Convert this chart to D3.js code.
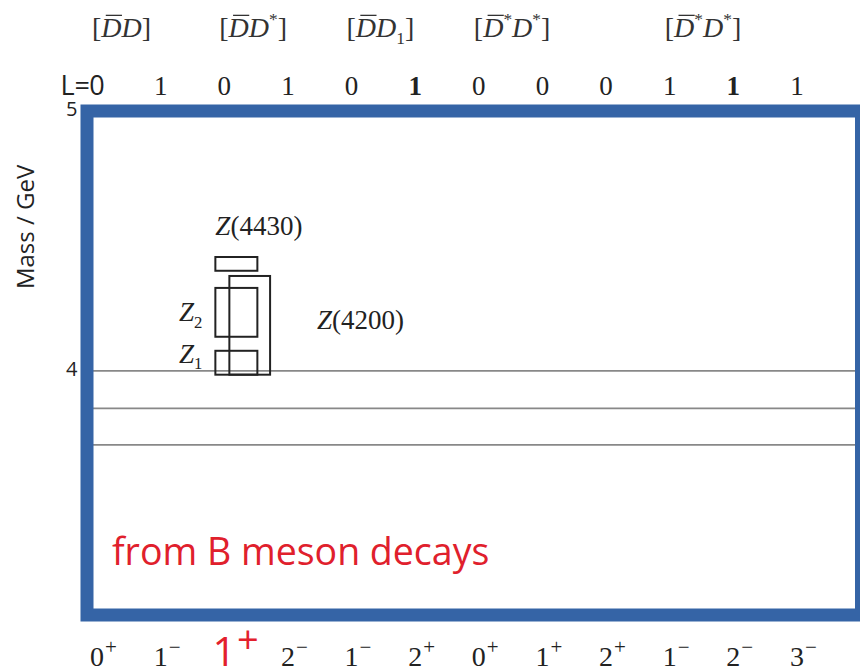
<!DOCTYPE html>
<html>
<head>
<meta charset="utf-8">
<script src="https://cdn.jsdelivr.net/npm/d3@7/dist/d3.min.js"></script>
<style>
  body { margin: 0; background: #fff; }
</style>
</head>
<body>
<svg id="chart" width="860" height="672"></svg>
<script>
// ---- data ----
// orbital angular momentum per column
const lValues = ['0', '1', '0', '1', '0', '1', '0', '0', '0', '1', '1', '1'];
// J^P per column
const jValues = ['0', '1', '1', '2', '1', '2', '0', '1', '2', '1', '2', '3'];
const pValues = ['+', '\u2212', '+', '\u2212', '\u2212', '+', '+', '+', '+', '\u2212', '\u2212', '\u2212'];
const highlightCol = 2;

// meson pair channels (first column of each group)
const channelStart = [0, 2, 4, 6, 9];
const channelParts = [
  [{t: '['}, {t: 'D', i: 1, bar: 1}, {t: 'D', i: 1}, {t: ']'}],
  [{t: '['}, {t: 'D', i: 1, bar: 1}, {t: 'D', i: 1}, {t: '*', sup: 1}, {t: ']'}],
  [{t: '['}, {t: 'D', i: 1, bar: 1}, {t: 'D', i: 1}, {t: '1', sub: 1}, {t: ']'}],
  [{t: '['}, {t: 'D', i: 1, bar: 1}, {t: '*', sup: 1}, {t: 'D', i: 1}, {t: '*', sup: 1}, {t: ']'}],
  [{t: '['}, {t: 'D', i: 1, bar: 1}, {t: '*', sup: 1}, {t: 'D', i: 1}, {t: '*', sup: 1}, {t: ']'}]
];

// thresholds (GeV)
const thresholds = [4.0, 3.855, 3.715];

// observed states: column, mass range (GeV)
const stateNames = ['Z(4430)', 'Z2', 'Z1', 'Z(4200)'];
const stateCol = [2, 2, 2, 2];
const stateLow = [4.385, 4.131, 3.985, 3.985];
const stateHigh = [4.438, 4.319, 4.077, 4.365];

const massMin = 3.06, massMax = 5;
const massTicks = [4, 5];

// ---- layout ----
const svg = d3.select('#chart');
const frameColor = '#3564a6';
const frameW = 13;
const left = 87, right = 861.5;

const x = d3.scaleLinear().domain([0, 11]).range([97, 797]);
const y = d3.scaleLinear().domain([massMin, massMax]).range([615, 111]);

const serif = "'Liberation Serif', 'DejaVu Serif', serif";
const sans = "'Open Sans', 'DejaVu Sans', sans-serif";

// text made of pieces: italic, sub/superscript, overline
function richText(g, parts, px, py, size, anchor, fill) {
  const text = g.append('text')
      .attr('x', px)
      .attr('y', py)
      .attr('font-family', serif)
      .attr('font-size', size)
      .attr('fill', fill || '#222')
      .attr('text-anchor', anchor || 'start');
  let shift = 0, idx = 0;
  const bars = [];
  parts.forEach(p => {
    const target = p.sup ? -0.42 * size : p.sub ? 0.25 * size : 0;
    const ts = text.append('tspan').text(p.t).attr('dy', target - shift);
    shift = target;
    if (p.sup || p.sub) ts.attr('font-size', size * 0.62);
    if (p.i) ts.attr('font-style', 'italic');
    if (p.bar) bars.push(idx);
    idx += p.t.length;
  });
  bars.forEach(ci => {
    const r = text.node().getExtentOfChar(ci);
    g.append('line')
        .attr('x1', r.x + r.width * 0.22)
        .attr('x2', r.x + r.width * 1.02)
        .attr('y1', r.y + size * 0.12)
        .attr('y2', r.y + size * 0.12)
        .attr('stroke', fill || '#222')
        .attr('stroke-width', 1.3);
  });
  return text;
}

// threshold lines
svg.append('g')
  .selectAll('line')
  .data(thresholds)
  .join('line')
    .attr('x1', left)
    .attr('x2', right)
    .attr('y1', d => y(d))
    .attr('y2', d => y(d))
    .attr('stroke', '#888')
    .attr('stroke-width', 1.8);

// state boxes
const states = stateNames.map((n, i) => ({name: n, col: stateCol[i], lo: stateLow[i], hi: stateHigh[i]}));
const boxX = {'Z(4430)': [-0.14, 0.52], 'Z2': [-0.14, 0.52], 'Z1': [-0.14, 0.52], 'Z(4200)': [0.08, 0.72]};
svg.append('g')
  .selectAll('rect')
  .data(states)
  .join('rect')
    .attr('x', d => x(d.col + boxX[d.name][0]))
    .attr('width', d => x(d.col + boxX[d.name][1]) - x(d.col + boxX[d.name][0]))
    .attr('y', d => y(d.hi))
    .attr('height', d => y(d.lo) - y(d.hi))
    .attr('fill', 'none')
    .attr('stroke', '#222')
    .attr('stroke-width', 2);

// state labels
const lab = svg.append('g');
const s0 = states[0], s1 = states[1], s2 = states[2], s3 = states[3];
const zSize = 27;
richText(lab, [{t: 'Z', i: 1}, {t: '(4430)'}], x(s0.col + boxX['Z(4430)'][0]), y(s0.hi) - 22, zSize);
richText(lab, [{t: 'Z', i: 1}, {t: '2', sub: 1}], x(s1.col + boxX['Z2'][0]) - 13, (y(s1.hi) + y(s1.lo)) / 2 + 9, zSize, 'end');
richText(lab, [{t: 'Z', i: 1}, {t: '1', sub: 1}], x(s2.col + boxX['Z1'][0]) - 13, (y(s2.hi) + y(s2.lo)) / 2, zSize, 'end');
richText(lab, [{t: 'Z', i: 1}, {t: '(4200)'}], x(s3.col + boxX['Z(4200)'][1]) + 47, (y(s3.hi) + y(s3.lo)) / 2 + 4, zSize);

// frame
svg.append('rect')
    .attr('x', left)
    .attr('y', y(massMax))
    .attr('width', right - left)
    .attr('height', y(massMin) - y(massMax))
    .attr('fill', 'none')
    .attr('stroke', frameColor)
    .attr('stroke-width', frameW);

// mass axis
const yAxis = svg.append('g')
    .attr('transform', `translate(${left - frameW / 2},0)`)
    .call(d3.axisLeft(y).tickValues(massTicks).tickSize(0).tickPadding(3).tickFormat(d3.format('d')));
yAxis.select('.domain').remove();
yAxis.selectAll('text')
    .attr('font-family', sans)
    .attr('font-size', 20)
    .attr('fill', '#222')
    .attr('dy', '0.22em');

svg.append('text')
    .attr('transform', `translate(26,${(y(massMax) + y(4)) / 2 - 14}) rotate(-90)`)
    .attr('text-anchor', 'middle')
    .attr('dy', '0.35em')
    .attr('font-family', sans)
    .attr('font-size', 24)
    .attr('fill', '#222')
    .text('Mass / GeV');

// channel labels on top
const channelG = svg.append('g');
channelParts.forEach((parts, i) => {
  richText(channelG, parts, x(channelStart[i]) - 5, 37, 28, 'start', '#333');
});

// L row
svg.append('text')
    .attr('x', x(0) - 7)
    .attr('y', 95)
    .attr('text-anchor', 'end')
    .attr('font-family', sans)
    .attr('font-size', 27)
    .attr('fill', '#222')
    .text('L=');
svg.append('g')
  .selectAll('text')
  .data(lValues)
  .join('text')
    .attr('x', (d, i) => x(i))
    .attr('y', 95)
    .attr('text-anchor', 'middle')
    .attr('font-family', (d, i) => i === 0 ? sans : serif)
    .attr('font-size', (d, i) => i === 0 ? 27 : 27)
    .attr('font-weight', (d, i) => i === 5 || i === 10 ? 'bold' : 'normal')
    .attr('fill', '#222')
    .text(d => d);

// J^P row
const jp = svg.append('g');
jValues.forEach((j, i) => {
  const hi = i === highlightCol;
  const size = hi ? 41 : 28;
  const t = jp.append('text')
      .attr('x', x(i))
      .attr('y', 666)
      .attr('text-anchor', 'middle')
      .attr('font-family', hi ? sans : serif)
      .attr('font-size', size)
      .attr('fill', hi ? '#e3202c' : '#222')
      .text(j);
  const w = t.node().getComputedTextLength();
  jp.append('text')
      .attr('x', x(i) + w / 2 + (hi ? 1 : 1))
      .attr('y', hi ? 653 : 654)
      .attr('font-family', hi ? sans : serif)
      .attr('font-size', hi ? 38 : 21)
      .attr('fill', hi ? '#e3202c' : '#222')
      .text(pValues[i]);
});

// note
svg.append('text')
    .attr('x', left + 25)
    .attr('y', 565)
    .attr('font-family', sans)
    .attr('font-size', 37.5)
    .attr('fill', '#e0202c')
    .text('from B meson decays');
</script>
</body>
</html>
